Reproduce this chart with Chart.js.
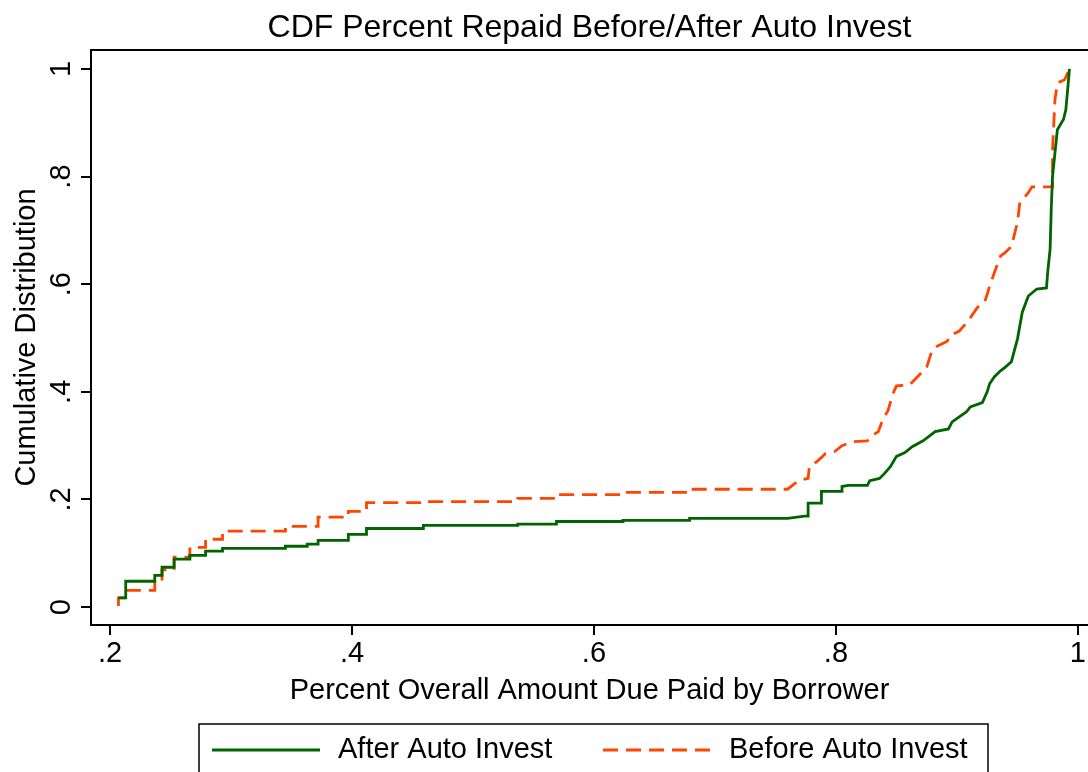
<!DOCTYPE html>
<html><head><meta charset="utf-8">
<script src="https://cdn.jsdelivr.net/npm/chart.js@4.4.0/dist/chart.umd.min.js"></script>
<style>html,body{margin:0;padding:0;background:#fff;} canvas{display:block;}</style>
</head><body>
<canvas id="c" width="1088" height="772"></canvas>
<script>
// ---- data ----
const seriesLabels = ['After Auto Invest', 'Before Auto Invest'];
const afterX = [0.207,0.213,0.213,0.237,0.237,0.243,0.243,0.253,0.253,0.266,0.266,0.279,0.279,0.293,0.293,0.345,0.345,0.363,0.363,0.372,0.372,0.397,0.397,0.412,0.412,0.459,0.459,0.537,0.537,0.569,0.569,0.624,0.624,0.679,0.679,0.760,0.774,0.777,0.777,0.788,0.788,0.805,0.805,0.810,0.826,0.828,0.836,0.840,0.845,0.850,0.857,0.863,0.872,0.882,0.893,0.896,0.908,0.911,0.921,0.925,0.927,0.931,0.936,0.940,0.945,0.950,0.954,0.959,0.966,0.974,0.975,0.977,0.978,0.979,0.981,0.983,0.988,0.990,0.992,0.993];
const afterY = [0.017,0.017,0.048,0.048,0.059,0.059,0.074,0.074,0.089,0.089,0.096,0.096,0.104,0.104,0.109,0.109,0.113,0.113,0.117,0.117,0.124,0.124,0.135,0.135,0.146,0.146,0.152,0.152,0.154,0.154,0.159,0.159,0.161,0.161,0.165,0.165,0.169,0.169,0.193,0.193,0.215,0.215,0.224,0.226,0.226,0.235,0.239,0.248,0.261,0.280,0.287,0.298,0.309,0.326,0.331,0.344,0.363,0.372,0.380,0.400,0.415,0.428,0.439,0.446,0.456,0.498,0.548,0.578,0.591,0.593,0.622,0.665,0.744,0.800,0.844,0.887,0.906,0.924,0.974,1.000];
const beforeX = [0.207,0.207,0.214,0.214,0.237,0.237,0.243,0.243,0.253,0.253,0.266,0.266,0.279,0.279,0.293,0.293,0.345,0.345,0.372,0.372,0.397,0.397,0.412,0.412,0.459,0.459,0.537,0.537,0.569,0.569,0.623,0.623,0.679,0.679,0.760,0.764,0.769,0.777,0.778,0.784,0.789,0.791,0.799,0.805,0.813,0.826,0.830,0.835,0.839,0.843,0.847,0.850,0.861,0.864,0.875,0.879,0.882,0.892,0.894,0.902,0.909,0.917,0.923,0.927,0.931,0.936,0.940,0.945,0.950,0.952,0.959,0.962,0.979,0.979,0.981,0.983,0.989,0.993];
const beforeY = [0.002,0.017,0.017,0.031,0.031,0.048,0.048,0.069,0.069,0.093,0.093,0.111,0.111,0.126,0.126,0.141,0.141,0.150,0.150,0.167,0.167,0.178,0.178,0.194,0.194,0.196,0.196,0.202,0.202,0.209,0.209,0.213,0.213,0.219,0.219,0.226,0.235,0.239,0.261,0.270,0.280,0.285,0.289,0.300,0.307,0.309,0.319,0.326,0.350,0.365,0.396,0.411,0.413,0.420,0.446,0.474,0.483,0.494,0.504,0.513,0.531,0.557,0.567,0.596,0.622,0.652,0.659,0.670,0.715,0.752,0.770,0.781,0.781,0.850,0.943,0.974,0.980,1.000];
const xTicks = [0.2, 0.4, 0.6, 0.8, 1];
const xTickLabels = ['.2', '.4', '.6', '.8', '1'];
const yTicks = [0, 0.2, 0.4, 0.6, 0.8, 1];
const yTickLabels = ['0', '.2', '.4', '.6', '.8', '1'];

const FONT = '"Liberation Sans", Arial, Helvetica, sans-serif';
Chart.defaults.font.family = FONT;
Chart.defaults.color = '#000';

const toPts = (xs, ys) => xs.map((x, i) => ({x: x, y: ys[i]}));

// frame + rotated y tick labels + boxed legend
const stataPlugin = {
  id: 'stata',
  afterDraw(chart) {
    const ctx = chart.ctx;
    const ca = chart.chartArea;
    ctx.save();
    ctx.strokeStyle = '#000';
    ctx.lineWidth = 2;
    ctx.beginPath();
    ctx.moveTo(chart.width + 2, ca.top);
    ctx.lineTo(ca.left, ca.top);
    ctx.lineTo(ca.left, ca.bottom);
    ctx.lineTo(chart.width + 2, ca.bottom);
    ctx.stroke();
    // y tick labels, rotated as in Stata
    const ys = chart.scales.y;
    ctx.fillStyle = '#000';
    ctx.font = '29px ' + FONT;
    ctx.textAlign = 'center';
    ctx.textBaseline = 'middle';
    yTicks.forEach((v, i) => {
      const py = ys.getPixelForValue(v);
      ctx.save();
      ctx.translate(ys.right - 29, py);
      ctx.rotate(-Math.PI / 2);
      ctx.fillText(yTickLabels[i], 0, 0);
      ctx.restore();
    });
    // legend
    const cx = ca.left + 502.5;
    const top = chart.height - 48;
    ctx.lineWidth = 1.5;
    ctx.setLineDash([]);
    ctx.strokeRect(cx - 394.5, top, 789, 60);
    const items = [
      {ds: chart.data.datasets[0], x0: cx - 381.5},
      {ds: chart.data.datasets[1], x0: cx + 9.5}
    ];
    const ly = top + 26;
    items.forEach(it => {
      ctx.strokeStyle = it.ds.borderColor;
      ctx.lineWidth = it.ds.borderWidth;
      ctx.setLineDash(it.ds.borderDash || []);
      ctx.beginPath();
      ctx.moveTo(it.x0, ly);
      ctx.lineTo(it.x0 + 108, ly);
      ctx.stroke();
      ctx.setLineDash([]);
      ctx.fillStyle = '#000';
      ctx.textAlign = 'left';
      ctx.textBaseline = 'middle';
      ctx.font = '29px ' + FONT;
      ctx.fillText(it.ds.label, it.x0 + 126, ly);
    });
    ctx.restore();
  }
};

new Chart(document.getElementById('c'), {
  type: 'line',
  data: {
    datasets: [
      {label: seriesLabels[0], data: toPts(afterX, afterY), borderColor: '#006400', borderWidth: 2.8, pointRadius: 0, tension: 0, fill: false},
      {label: seriesLabels[1], data: toPts(beforeX, beforeY), borderColor: '#ff4500', borderWidth: 2.8, borderDash: [15, 8], pointRadius: 0, tension: 0, fill: false}
    ]
  },
  options: {
    responsive: false,
    animation: false,
    devicePixelRatio: 1,
    layout: {padding: {left: 0, right: 0, top: 0, bottom: 63.4}},
    plugins: {
      legend: {display: false},
      tooltip: {enabled: false},
      title: {
        display: true,
        text: 'CDF Percent Repaid Before/After Auto Invest',
        font: {size: 32, weight: 'normal'},
        color: '#000',
        padding: {top: 9.3, bottom: 2.3},
        fullSize: false
      }
    },
    scales: {
      x: {
        type: 'linear',
        min: 0.1843,
        max: 1.0083,
        afterBuildTicks: (s) => { s.ticks = xTicks.map(v => ({value: v})); },
        ticks: {
          callback: (v, i) => xTickLabels[i],
          font: {size: 29},
          color: '#000',
          padding: 2,
          maxRotation: 0,
          autoSkip: false
        },
        grid: {display: true, drawOnChartArea: false, drawTicks: true, tickLength: 10, color: '#000', lineWidth: 2},
        border: {display: false},
        title: {display: true, text: 'Percent Overall Amount Due Paid by Borrower', font: {size: 29}, color: '#000', padding: {top: 0, bottom: 0}}
      },
      y: {
        type: 'linear',
        min: -0.0333,
        max: 1.0352,
        afterBuildTicks: (s) => { s.ticks = yTicks.map(v => ({value: v})); },
        afterFit: (s) => { s.width = 91; },
        ticks: {display: false},
        grid: {display: true, drawOnChartArea: false, drawTicks: true, tickLength: 10, color: '#000', lineWidth: 2},
        border: {display: false},
        title: {display: true, text: 'Cumulative Distribution', font: {size: 29}, color: '#000', padding: {top: 9.6, bottom: 0}}
      }
    }
  },
  plugins: [stataPlugin]
});
</script>
</body></html>
